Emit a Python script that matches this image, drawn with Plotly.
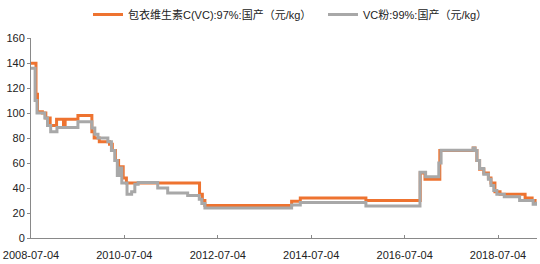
import plotly.graph_objects as go

# Orange series: 包衣维生素C(VC):97%:国产（元/kg）
orange_dates = ["2008-07-04","2008-08-12","2008-08-24","2008-10-01","2008-10-28","2008-12-01",
                "2009-01-20","2009-03-15","2009-03-28","2009-07-06","2009-10-23","2009-11-10",
                "2009-12-20","2010-03-10","2010-04-01","2010-04-25","2010-05-20","2010-06-25",
                "2010-07-20","2012-02-12","2012-03-05","2012-03-25","2014-02-01","2014-04-10",
                "2015-09-05","2016-11-03","2016-12-10","2017-04-05","2017-12-22","2018-01-05",
                "2018-01-20","2018-02-10","2018-03-15","2018-04-20","2018-05-10","2018-06-10",
                "2018-07-20","2019-02-01","2019-03-28","2019-04-20","2019-05-01"]
orange_vals = [140,115,101,100,96,90,
               95,90,95,98,85,80,
               77,75,70,62,57,48,
               44,35,30,26,29.5,32,
               30,52,47,70,72,70,
               62,55,52,48,44,37,
               35,32,30,28,28]

# Gray series: VC粉:99%:国产（元/kg）
gray_dates = ["2008-07-04","2008-08-05","2008-08-20","2008-10-20","2008-11-10","2008-12-05",
              "2009-01-23","2009-07-06","2009-10-23","2009-11-15","2009-12-10","2010-02-25",
              "2010-03-25","2010-04-20","2010-05-10","2010-05-25","2010-06-14","2010-07-25",
              "2010-08-30","2010-09-24","2010-10-20","2011-03-22","2011-06-08","2011-11-11",
              "2012-02-10","2012-03-01","2012-03-25","2014-02-01","2014-04-10","2015-09-05",
              "2016-11-01","2016-12-15","2017-03-28","2017-04-15","2017-12-22","2018-01-05",
              "2018-01-20","2018-02-10","2018-03-15","2018-04-20","2018-05-10","2018-06-01",
              "2018-06-25","2018-08-22","2018-12-20","2019-04-05","2019-05-01"]
gray_vals = [136,110,100,96,90,85,
             88.5,93,88,83,80,77,
             70,62,50,56,44,35,
             37,43,44.5,40,36,34,
             31,27.7,24,26.4,28.5,25.7,
             52.6,49,60,70.3,72,70,
             62,55.6,51,47,42,38,
             35,33,30,27,29]

series_names = ["包衣维生素C(VC):97%:国产（元/kg）", "VC粉:99%:国产（元/kg）"]
x_tick_vals = ["2008-07-04","2010-07-04","2012-07-04","2014-07-04","2016-07-04","2018-07-04"]
x_tick_text = ["2008-07-04","2010-07-04","2012-07-04","2014-07-04","2016-07-04","2018-07-04"]
y_tick_vals = [0,20,40,60,80,100,120,140,160]

FONT = "Liberation Sans, Arial, Noto Sans CJK SC, sans-serif"

fig = go.Figure()
fig.add_trace(go.Scatter(x=orange_dates, y=orange_vals, mode="lines", name=series_names[0],
                         line=dict(color="#EE7330", width=3, shape="hv")))
fig.add_trace(go.Scatter(x=gray_dates, y=gray_vals, mode="lines", name=series_names[1],
                         line=dict(color="#A8A8A8", width=3, shape="hv")))

fig.update_layout(
    width=540, height=264,
    margin=dict(l=31, r=3, t=28, b=26),
    paper_bgcolor="white", plot_bgcolor="white",
    font=dict(family=FONT, size=11, color="#222222"),
    showlegend=True,
    legend=dict(orientation="h", xref="container", yref="container",
                x=88/540, y=1.0, xanchor="left", yanchor="top",
                font=dict(family=FONT, size=11, color="#222222"),
                entrywidth=190, entrywidthmode="pixels",
                bgcolor="rgba(0,0,0,0)"),
    xaxis=dict(type="date", range=["2008-07-04","2019-05-05"],
               tickmode="array", tickvals=x_tick_vals, ticktext=x_tick_text,
               ticks="inside", ticklen=3, tickcolor="#898989",
               ticklabelstandoff=7,
               showline=True, linecolor="#898989", linewidth=1,
               showgrid=False, zeroline=False,
               tickfont=dict(family=FONT, size=11, color="#222222")),
    yaxis=dict(range=[0,160], tickmode="array", tickvals=y_tick_vals,
               ticks="outside", ticklen=3, tickcolor="#898989",
               showline=True, linecolor="#898989", linewidth=1,
               showgrid=False, zeroline=False,
               tickfont=dict(family=FONT, size=11, color="#222222")),
)

fig.write_html("out.html")
